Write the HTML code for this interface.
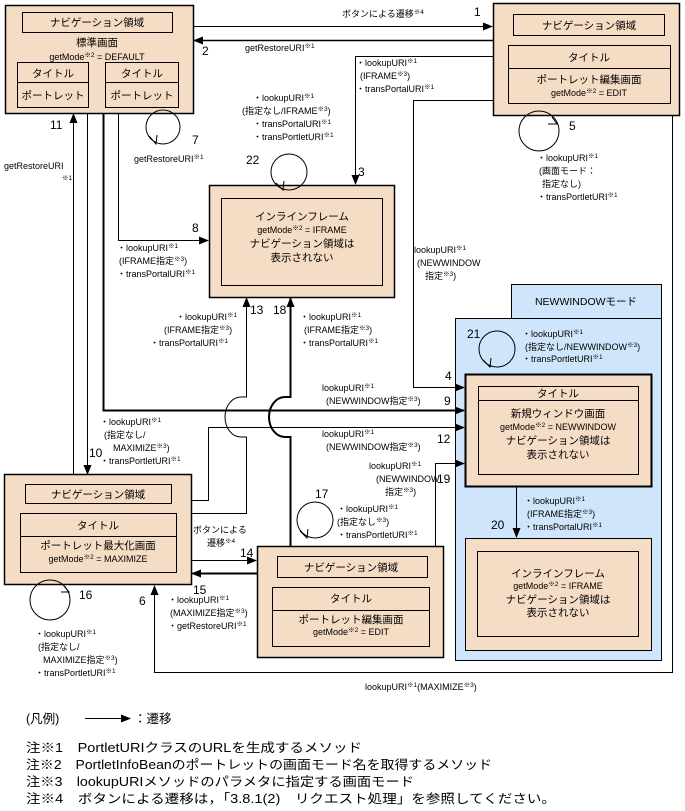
<!DOCTYPE html>
<html><head><meta charset="utf-8"><style>
html,body{margin:0;padding:0;background:#fff}
svg{display:block;font-family:"Liberation Sans","Noto Sans CJK JP",sans-serif}
text{font-size:9px;fill:#000}
.s{font-size:6.5px}
.c{text-anchor:middle}
.b{font-size:10.5px}
.n{font-size:12px}
</style></head><body>
<svg width="685" height="811" viewBox="0 0 685 811" xmlns="http://www.w3.org/2000/svg">
<defs>
<marker id="a" markerWidth="10" markerHeight="8" refX="9" refY="4" orient="auto" markerUnits="userSpaceOnUse"><path d="M0,0 L10,4 L0,8 Z" fill="#000"/></marker>
</defs>
<g fill="none" stroke="#000" stroke-width="1">
<!-- NEWWINDOW region -->
<rect x="511.5" y="284.5" width="150" height="34" fill="#cfe5fb"/>
<rect x="455.5" y="318.5" width="206" height="342" fill="#cfe5fb"/>
<!-- boxes -->
<rect x="5.5" y="5.5" width="188" height="108" fill="#f5dcc4" stroke-width="1.5"/>
<rect x="22.5" y="12.5" width="150" height="20"/>
<rect x="17.5" y="62.5" width="71" height="45"/><line x1="17" y1="82.5" x2="88" y2="82.5"/>
<rect x="105.5" y="62.5" width="73" height="45"/><line x1="105" y1="82.5" x2="178" y2="82.5"/>
<rect x="493.5" y="3.5" width="186" height="112" fill="#f5dcc4" stroke-width="1.5"/>
<rect x="513.5" y="14.5" width="151" height="21"/>
<rect x="508.5" y="45.5" width="162" height="58"/><line x1="508" y1="68.5" x2="670" y2="68.5"/>
<rect x="209.5" y="185.5" width="185" height="112" fill="#f5dcc4" stroke-width="1.5"/>
<rect x="221.5" y="198.5" width="161" height="87"/>
<rect x="4.5" y="474.5" width="187" height="110" fill="#f5dcc4" stroke-width="1.5"/>
<rect x="25.5" y="484.5" width="146" height="19"/>
<rect x="20.5" y="513.5" width="156" height="59"/><line x1="20" y1="536.5" x2="176" y2="536.5"/>
<rect x="257.5" y="546.5" width="186" height="111" fill="#f5dcc4" stroke-width="1.5"/>
<rect x="277.5" y="556.5" width="150" height="21"/>
<rect x="272.5" y="587.5" width="157" height="59"/><line x1="272" y1="610.5" x2="429" y2="610.5"/>
<rect x="465.5" y="374.5" width="186" height="112" fill="#f5dcc4" stroke-width="2"/>
<rect x="478.5" y="386.5" width="160" height="88"/><line x1="478" y1="400.5" x2="638" y2="400.5"/>
<rect x="465.5" y="538.5" width="186" height="112" fill="#f5dcc4"/>
<rect x="477.5" y="551.5" width="161" height="85"/>
<!-- connectors -->
<path d="M193 26.5 H492" marker-end="url(#a)"/>
<path d="M493 40.5 H194" marker-end="url(#a)" stroke-width="1.5"/>
<path d="M493 56.5 H355.5 V184" marker-end="url(#a)"/>
<path d="M493 100.5 H413.5 V387.5 H464" marker-end="url(#a)"/>
<path d="M672.5 115 V672.5 H154.5 V586" marker-end="url(#a)"/>
<path d="M73.5 475 V114" marker-end="url(#a)"/>
<path d="M87.5 113 V474" marker-end="url(#a)"/>
<path d="M103.5 113 V410.5 H464" marker-end="url(#a)" stroke-width="2"/>
<path d="M118.5 113 V240.5 H208" marker-end="url(#a)"/>
<path d="M191 500.5 H208.5 V427.5 H464" marker-end="url(#a)"/>
<path d="M191 513.5 H246.5 V437 H241 A16 20 0 0 1 241 397 H246.5 V298" marker-end="url(#a)"/>
<path d="M290.5 546 V437 H285 A16 20 0 0 1 285 397 H290.5 V298" marker-end="url(#a)" stroke-width="2"/>
<path d="M435.5 546 V463.5 H464" marker-end="url(#a)"/>
<path d="M191 560.5 H256" marker-end="url(#a)"/>
<path d="M257 573.5 H192" marker-end="url(#a)" stroke-width="2"/>
<path d="M516.5 486 V537" marker-end="url(#a)"/>
<!-- loops -->
<circle cx="163" cy="127" r="17"/><path d="M149 136 L156 144 L157 135"/>
<circle cx="289" cy="172" r="18"/><path d="M276 183 L283 190 L284 181"/>
<circle cx="539" cy="131" r="20"/><path d="M552 117 L557 124 L548 124"/>
<circle cx="50" cy="600" r="20"/><path d="M64 586 L69 592 L61 592"/>
<circle cx="315" cy="520" r="18"/><path d="M300 531 L307 538 L308 529"/>
<circle cx="497" cy="349" r="18"/><path d="M483 360 L490 367 L491 358"/>
<!-- legend arrow -->
<path d="M85 718.5 H130" marker-end="url(#a)"/>
</g>

<!-- box texts -->
<text class="b c" x="97" y="26">ナビゲーション領域</text>
<text class="b c" x="97" y="46">標準画面</text>
<text class="c" x="97" y="60">getMode<tspan class="s" baseline-shift="super">※2</tspan> = DEFAULT</text>
<text class="b c" x="53" y="77">タイトル</text><text class="b c" x="53" y="99">ポートレット</text>
<text class="b c" x="142" y="77">タイトル</text><text class="b c" x="142" y="99">ポートレット</text>

<text class="b c" x="589" y="29">ナビゲーション領域</text>
<text class="b c" x="589" y="61">タイトル</text>
<text class="b c" x="589" y="83">ポートレット編集画面</text>
<text class="c" x="589" y="96">getMode<tspan class="s" baseline-shift="super">※2</tspan> = EDIT</text>

<text class="b c" x="302" y="220">インラインフレーム</text>
<text class="c" x="302" y="233">getMode<tspan class="s" baseline-shift="super">※2</tspan> = IFRAME</text>
<text class="b c" x="302" y="247">ナビゲーション領域は</text>
<text class="b c" x="302" y="261">表示されない</text>

<text class="b c" x="98" y="498">ナビゲーション領域</text>
<text class="b c" x="98" y="529">タイトル</text>
<text class="b c" x="98" y="549">ポートレット最大化画面</text>
<text class="c" x="98" y="562">getMode<tspan class="s" baseline-shift="super">※2</tspan> = MAXIMIZE</text>

<text class="b c" x="351" y="571">ナビゲーション領域</text>
<text class="b c" x="351" y="602">タイトル</text>
<text class="b c" x="351" y="623">ポートレット編集画面</text>
<text class="c" x="351" y="635">getMode<tspan class="s" baseline-shift="super">※2</tspan> = EDIT</text>

<text class="b c" x="586" y="305">NEWWINDOWモード</text>
<text class="b c" x="558" y="397">タイトル</text>
<text class="b c" x="558" y="417">新規ウィンドウ画面</text>
<text class="c" x="558" y="430">getMode<tspan class="s" baseline-shift="super">※2</tspan> = NEWWINDOW</text>
<text class="b c" x="558" y="444">ナビゲーション領域は</text>
<text class="b c" x="558" y="458">表示されない</text>

<text class="b c" x="558" y="577">インラインフレーム</text>
<text class="c" x="558" y="589">getMode<tspan class="s" baseline-shift="super">※2</tspan> = IFRAME</text>
<text class="b c" x="558" y="603">ナビゲーション領域は</text>
<text class="b c" x="558" y="616">表示されない</text>

<!-- numbers -->
<text class="n" x="474" y="16">1</text>
<text class="n" x="202" y="55">2</text>
<text class="n" x="358" y="176">3</text>
<text class="n" x="445" y="380">4</text>
<text class="n" x="569" y="130">5</text>
<text class="n" x="139" y="605">6</text>
<text class="n" x="192" y="144">7</text>
<text class="n" x="192" y="232">8</text>
<text class="n" x="444" y="405">9</text>
<text class="n" x="89" y="457">10</text>
<text class="n" x="50" y="129">11</text>
<text class="n" x="437" y="443">12</text>
<text class="n" x="250" y="314">13</text>
<text class="n" x="240" y="557">14</text>
<text class="n" x="193" y="594">15</text>
<text class="n" x="79" y="599">16</text>
<text class="n" x="315" y="498">17</text>
<text class="n" x="273" y="314">18</text>
<text class="n" x="437" y="483">19</text>
<text class="n" x="491" y="529">20</text>
<text class="n" x="467" y="338">21</text>
<text class="n" x="246" y="164">22</text>

<!-- labels -->
<text x="342" y="17">ボタンによる遷移<tspan class="s" baseline-shift="super">※4</tspan></text>
<text x="245" y="51">getRestoreURI<tspan class="s" baseline-shift="super">※1</tspan></text>
<text x="356" y="66">・lookupURI<tspan class="s" baseline-shift="super">※1</tspan></text>
<text x="360" y="79">(IFRAME<tspan class="s" baseline-shift="super">※3</tspan>)</text>
<text x="356" y="92">・transPortalURI<tspan class="s" baseline-shift="super">※1</tspan></text>
<text x="537" y="161">・lookupURI<tspan class="s" baseline-shift="super">※1</tspan></text>
<text x="539" y="174">(画面モード：</text>
<text x="542" y="187">指定なし)</text>
<text x="537" y="200">・transPortletURI<tspan class="s" baseline-shift="super">※1</tspan></text>
<text x="253" y="101">・lookupURI<tspan class="s" baseline-shift="super">※1</tspan></text>
<text x="242" y="114">(指定なし/IFRAME<tspan class="s" baseline-shift="super">※3</tspan>)</text>
<text x="253" y="127">・transPortalURI<tspan class="s" baseline-shift="super">※1</tspan></text>
<text x="253" y="140">・transPortletURI<tspan class="s" baseline-shift="super">※1</tspan></text>
<text x="134" y="162">getRestoreURI<tspan class="s" baseline-shift="super">※1</tspan></text>
<text x="4" y="169">getRestoreURI</text>
<text class="s" x="62" y="180">※1</text>
<text x="414" y="253">lookupURI<tspan class="s" baseline-shift="super">※1</tspan></text>
<text x="417" y="266">(NEWWINDOW</text>
<text x="425" y="279">指定<tspan class="s" baseline-shift="super">※3</tspan>)</text>
<text x="117" y="251">・lookupURI<tspan class="s" baseline-shift="super">※1</tspan></text>
<text x="119" y="264">(IFRAME指定<tspan class="s" baseline-shift="super">※3</tspan>)</text>
<text x="117" y="277">・transPortalURI<tspan class="s" baseline-shift="super">※1</tspan></text>
<text x="176" y="320">・lookupURI<tspan class="s" baseline-shift="super">※1</tspan></text>
<text x="164" y="333">(IFRAME指定<tspan class="s" baseline-shift="super">※3</tspan>)</text>
<text x="150" y="346">・transPortalURI<tspan class="s" baseline-shift="super">※1</tspan></text>
<text x="300" y="320">・lookupURI<tspan class="s" baseline-shift="super">※1</tspan></text>
<text x="304" y="333">(IFRAME指定<tspan class="s" baseline-shift="super">※3</tspan>)</text>
<text x="300" y="346">・transPortalURI<tspan class="s" baseline-shift="super">※1</tspan></text>
<text x="322" y="391">lookupURI<tspan class="s" baseline-shift="super">※1</tspan></text>
<text x="326" y="404">(NEWWINDOW指定<tspan class="s" baseline-shift="super">※3</tspan>)</text>
<text x="322" y="437">lookupURI<tspan class="s" baseline-shift="super">※1</tspan></text>
<text x="326" y="450">(NEWWINDOW指定<tspan class="s" baseline-shift="super">※3</tspan>)</text>
<text x="100" y="425">・lookupURI<tspan class="s" baseline-shift="super">※1</tspan></text>
<text x="104" y="438">(指定なし/</text>
<text x="113" y="451">MAXIMIZE<tspan class="s" baseline-shift="super">※3</tspan>)</text>
<text x="100" y="464">・transPortletURI<tspan class="s" baseline-shift="super">※1</tspan></text>
<text x="369" y="469">lookupURI<tspan class="s" baseline-shift="super">※1</tspan></text>
<text x="376" y="482">(NEWWINDOW</text>
<text x="385" y="495">指定<tspan class="s" baseline-shift="super">※3</tspan>)</text>
<text x="337" y="512">・lookupURI<tspan class="s" baseline-shift="super">※1</tspan></text>
<text x="337" y="525">(指定なし<tspan class="s" baseline-shift="super">※3</tspan>)</text>
<text x="337" y="538">・transPortletURI<tspan class="s" baseline-shift="super">※1</tspan></text>
<text x="193" y="533">ボタンによる</text>
<text x="207" y="546">遷移<tspan class="s" baseline-shift="super">※4</tspan></text>
<text x="168" y="603">・lookupURI<tspan class="s" baseline-shift="super">※1</tspan></text>
<text x="170" y="616">(MAXIMIZE指定<tspan class="s" baseline-shift="super">※3</tspan>)</text>
<text x="168" y="629">・getRestoreURI<tspan class="s" baseline-shift="super">※1</tspan></text>
<text x="35" y="637">・lookupURI<tspan class="s" baseline-shift="super">※1</tspan></text>
<text x="38" y="650">(指定なし/</text>
<text x="43" y="663">MAXIMIZE指定<tspan class="s" baseline-shift="super">※3</tspan>)</text>
<text x="35" y="676">・transPortletURI<tspan class="s" baseline-shift="super">※1</tspan></text>
<text x="365" y="690">lookupURI<tspan class="s" baseline-shift="super">※1</tspan>(MAXIMIZE<tspan class="s" baseline-shift="super">※3</tspan>)</text>
<text x="522" y="337">・lookupURI<tspan class="s" baseline-shift="super">※1</tspan></text>
<text x="525" y="350">(指定なし/NEWWINDOW<tspan class="s" baseline-shift="super">※3</tspan>)</text>
<text x="522" y="362">・transPortletURI<tspan class="s" baseline-shift="super">※1</tspan></text>
<text x="524" y="504">・lookupURI<tspan class="s" baseline-shift="super">※1</tspan></text>
<text x="527" y="517">(IFRAME指定<tspan class="s" baseline-shift="super">※3</tspan>)</text>
<text x="524" y="530">・transPortalURI<tspan class="s" baseline-shift="super">※1</tspan></text>

<!-- legend -->
<g style="font-size:12.5px">
<text x="26" y="723" style="font-size:12.5px">(凡例)</text>
<text x="134" y="723" style="font-size:12.5px">：遷移</text>
<text x="26" y="752" style="font-size:12.5px" textLength="336" lengthAdjust="spacingAndGlyphs">注※1　PortletURIクラスのURLを生成するメソッド</text>
<text x="26" y="769" style="font-size:12.5px" textLength="466" lengthAdjust="spacingAndGlyphs">注※2　PortletInfoBeanのポートレットの画面モード名を取得するメソッド</text>
<text x="26" y="786" style="font-size:12.5px" textLength="388" lengthAdjust="spacingAndGlyphs">注※3　lookupURIメソッドのパラメタに指定する画面モード</text>
<text x="26" y="803" style="font-size:12.5px" textLength="530" lengthAdjust="spacingAndGlyphs">注※4　ボタンによる遷移は，「3.8.1(2)　リクエスト処理」を参照してください。</text>
</g>
</svg>
</body></html>
